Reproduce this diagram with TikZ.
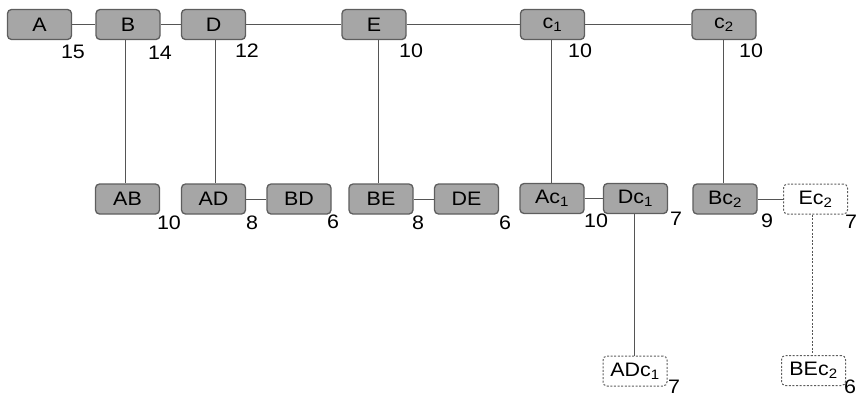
\documentclass[tikz,border=0pt]{standalone}
\usepackage{fontspec}
\setmainfont{Liberation Sans}[FakeStretch=1.1]
\definecolor{boxfill}{HTML}{A6A6A6}
\definecolor{boxline}{HTML}{5E5E5E}
\definecolor{conn}{HTML}{555555}
\begin{document}
\begin{tikzpicture}[x=1pt,y=-1pt,
  box/.style={draw=boxline, fill=boxfill, rounded corners=4pt, minimum width=64pt, minimum height=30pt, line width=1.3pt, inner sep=0pt, font=\fontsize{19.5}{19.5}\selectfont},
  dbox/.style={box, fill=white, dash pattern=on 2pt off 1.6pt, line width=1pt},
  lab/.style={inner sep=0pt, font=\fontsize{19.5}{19.5}\selectfont},
  conn/.style={draw=conn, line width=1pt},
  dconn/.style={conn, dash pattern=on 2pt off 1.6pt}]
\useasboundingbox (0,0) rectangle (859,397);
% top row
\node[box] (A) at (39.5,24.5) {A};
\node[box] (B) at (128,24.5) {B};
\node[box] (D) at (213.5,24.5) {D};
\node[box] (E) at (374,24.5) {E};
\node[box] (c1) at (552.5,24.5) {c\textsubscript{1}};
\node[box] (c2) at (724,24.5) {c\textsubscript{2}};
% middle row
\node[box] (AB) at (127.5,199) {AB};
\node[box] (AD) at (213.5,199) {AD};
\node[box] (BD) at (299,199) {BD};
\node[box] (BE) at (381,199) {BE};
\node[box] (DE) at (466.5,199) {DE};
\node[box] (Ac1) at (552,198.5) {Ac\textsubscript{1}};
\node[box] (Dc1) at (635.5,198.5) {Dc\textsubscript{1}};
\node[box] (Bc2) at (725,199) {Bc\textsubscript{2}};
\node[dbox] (Ec2) at (815.5,199) {Ec\textsubscript{2}};
% bottom row
\node[dbox] (ADc1) at (635,371) {ADc\textsubscript{1}};
\node[dbox] (BEc2) at (813.5,370.5) {BEc\textsubscript{2}};
% labels
\node[lab] (lA) at (73,52) {15};
\node[lab] (lB) at (160,53) {14};
\node[lab] (lD) at (247,51) {12};
\node[lab] (lE) at (411,51) {10};
\node[lab] (lc1) at (580,51) {10};
\node[lab] (lc2) at (751,51) {10};
\node[lab] (lAB) at (169,223) {10};
\node[lab] (lAD) at (252,223) {8};
\node[lab] (lBD) at (333,222) {6};
\node[lab] (lBE) at (418,223) {8};
\node[lab] (lDE) at (505,223) {6};
\node[lab] (lAc1) at (596,221) {10};
\node[lab] (lDc1) at (676,219) {7};
\node[lab] (lBc2) at (767,221) {9};
\node[lab] (lEc2) at (851,222) {7};
\node[lab] (lADc1) at (674,387) {7};
\node[lab] (lBEc2) at (850,387) {6};
% connectors
\draw[conn] (A.east) -- (B.west);
\draw[conn] (B.east) -- (D.west);
\draw[conn] (D.east) -- (E.west);
\draw[conn] (E.east) -- (c1.west);
\draw[conn] (c1.east) -- (c2.west);
\draw[conn] ([xshift=-3pt]B.south) -- ([xshift=-3pt]B.south |- AB.north);
\draw[conn] ([xshift=1.5pt]D.south) -- ([xshift=1.5pt]D.south |- AD.north);
\draw[conn] ([xshift=4.5pt]E.south) -- ([xshift=4.5pt]E.south |- BE.north);
\draw[conn] ([xshift=-1.5pt]c1.south) -- ([xshift=-1.5pt]c1.south |- Ac1.north);
\draw[conn] ([xshift=-1pt]c2.south) -- ([xshift=-1pt]c2.south |- Bc2.north);
\draw[conn] (AD.east) -- (BD.west);
\draw[conn] (BE.east) -- (DE.west);
\draw[conn] (Ac1.east) -- (Dc1.west);
\draw[conn] (Bc2.east) -- (Ec2.west);
\draw[conn] ([xshift=-1.5pt]Dc1.south) -- ([xshift=-1.5pt]Dc1.south |- ADc1.north);
\draw[dconn] ([xshift=-3.5pt]Ec2.south) -- ([xshift=-3.5pt]Ec2.south |- BEc2.north);
\end{tikzpicture}
\end{document}
